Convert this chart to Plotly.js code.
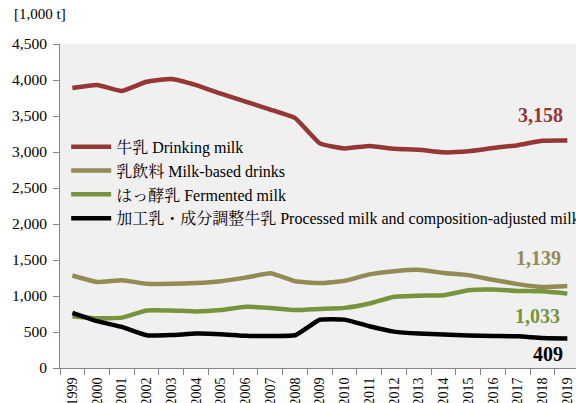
<!DOCTYPE html>
<html>
<head>
<meta charset="utf-8">
<script src="https://cdn.plot.ly/plotly-3.0.1.min.js"></script>
<style>html,body{margin:0;padding:0;background:#fff;overflow:hidden;}#chart{width:576px;height:403px;}</style>
</head>
<body>
<div id="chart"></div>
<script>
const years = ["1999","2000","2001","2002","2003","2004","2005","2006","2007","2008","2009","2010","2011","2012","2013","2014","2015","2016","2017","2018","2019"];
const drinkingMilk = [3889,3930,3848,3975,4015,3930,3810,3700,3590,3470,3120,3050,3085,3045,3030,2995,3010,3055,3095,3155,3158];
const milkBasedDrinks = [1285,1195,1220,1170,1170,1180,1205,1255,1315,1205,1180,1210,1300,1345,1365,1320,1290,1225,1165,1125,1139];
const fermentedMilk = [720,690,700,800,800,785,805,850,835,805,820,835,895,990,1005,1010,1080,1090,1070,1065,1033];
const processedMilk = [765,650,570,455,458,478,470,447,445,455,670,672,580,505,478,465,452,445,440,415,409];

const seriesNames = ["牛乳 Drinking milk","乳飲料 Milk-based drinks","はっ酵乳 Fermented milk","加工乳・成分調整牛乳 Processed milk and composition-adjusted milk"];
const seriesColors = ["#953735","#948a54","#77933c","#000000"];
const seriesData = [drinkingMilk, milkBasedDrinks, fermentedMilk, processedMilk];
const endLabels = ["3,158","1,139","1,033","409"];

const FONT = "Liberation Serif, Noto Serif CJK JP, Noto Sans CJK JP, serif";

const traces = seriesData.map((d, i) => ({
  x: years, y: d, type: 'scatter', mode: 'lines', name: seriesNames[i],
  line: {color: seriesColors[i], width: 4.5, shape: 'spline', smoothing: 0.4},
  hoverinfo: 'x+y'
}));

const shifts = [[-27, 26], [-29, 28], [-30, -22], [-19, -15]];
const annotations = seriesData.map((d, i) => ({
  x: years.length - 1, y: d[d.length - 1], xref: 'x', yref: 'y',
  text: '<b>' + endLabels[i] + '</b>', showarrow: false,
  xshift: shifts[i][0], yshift: shifts[i][1],
  font: {family: FONT, size: 20, color: seriesColors[i]}
}));
annotations.push({
  xref: 'paper', yref: 'paper', x: (12 - 60) / 516, y: 1 + 30 / 324,
  xanchor: 'left', yanchor: 'middle', text: '[1,000 t]', showarrow: false,
  font: {family: FONT, size: 15, color: '#000'}
});

const layout = {
  width: 576, height: 403,
  margin: {l: 60, r: 0, t: 44, b: 35, pad: 0, autoexpand: false},
  paper_bgcolor: '#ffffff', plot_bgcolor: '#f0f0f0',
  font: {family: FONT, size: 14, color: '#000'},
  showlegend: true,
  legend: {
    x: 0.012, y: 0.735, xanchor: 'left', yanchor: 'top',
    bgcolor: 'rgba(0,0,0,0)', borderwidth: 0,
    font: {family: FONT, size: 16, color: '#000'},
    itemwidth: 40, tracegroupgap: 0
  },
  xaxis: {
    type: 'category', range: [-0.5, 20.35],
    tickson: 'boundaries', ticks: 'outside', ticklen: 6, tickcolor: '#868686',
    showline: true, linecolor: '#868686', linewidth: 1,
    showgrid: false, zeroline: false, tickangle: -90,
    ticklabelstandoff: 3, automargin: false,
    tickfont: {family: FONT, size: 14, color: '#000'}
  },
  yaxis: {
    range: [0, 4500], dtick: 500, tick0: 0, tickformat: ',d',
    ticks: 'outside', ticklen: 6, tickcolor: '#868686',
    showline: true, linecolor: '#868686', linewidth: 1,
    showgrid: false, zeroline: false,
    ticklabelstandoff: 3, automargin: false,
    tickfont: {family: FONT, size: 15.5, color: '#000'}
  },
  annotations: annotations
};

Plotly.newPlot('chart', traces, layout, {displayModeBar: false, staticPlot: true});
</script>
</body>
</html>
